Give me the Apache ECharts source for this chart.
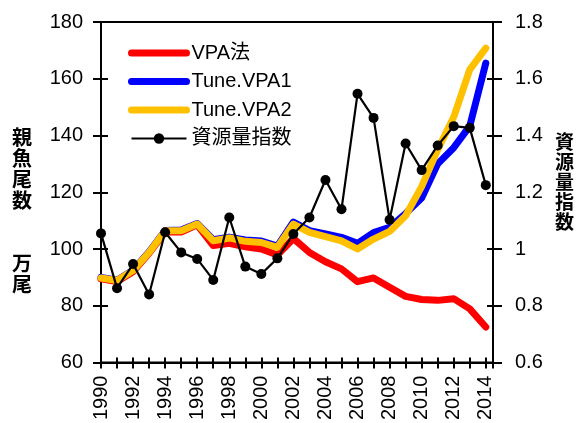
<!DOCTYPE html>
<html>
<head>
<meta charset="utf-8">
<script src="https://cdn.jsdelivr.net/npm/echarts@6/dist/echarts.min.js"></script>
<style>
  html, body { margin: 0; padding: 0; background: #fff; }
  #chart { width: 578px; height: 423px; }
</style>
</head>
<body>
<div id="chart"></div>
<script>
// Years on the horizontal axis
const years = [1990, 1991, 1992, 1993, 1994, 1995, 1996, 1997, 1998, 1999,
               2000, 2001, 2002, 2003, 2004, 2005, 2006, 2007, 2008, 2009,
               2010, 2011, 2012, 2013, 2014];

// Spawning stock numbers (万尾), left axis
const vpa = [89.5, 88.5, 92, 98.5, 106, 106, 108.5, 101.2, 102, 100.8,
             100, 97.9, 103.7, 98.8, 95.5, 93.0, 88.5, 89.8, 86.5, 83.3,
             82.2, 81.9, 82.5, 78.9, 72.5];
const tune1 = [90, 89, 92.5, 99, 106.5, 106.7, 109, 103.3, 104.2, 103.2,
               102.8, 101, 109.5, 106.5, 105.3, 104.1, 102, 105.8, 107.6, 112.5,
               118, 130, 135.7, 143.3, 165.5];
const tune2 = [89.8, 88.9, 92.4, 98.8, 106.4, 106.4, 108.8, 102.9, 103.9, 102.7,
               102.3, 100.6, 108.8, 105.9, 104.4, 102.9, 100, 103.5, 106.2, 111.7,
               122, 135, 146.5, 163.2, 170.8];

// Abundance index, right axis
const abundance = [1.055, 0.862, 0.947, 0.84, 1.059, 0.988, 0.965, 0.891, 1.111, 0.938,
                   0.912, 0.967, 1.053, 1.111, 1.243, 1.14, 1.547, 1.462, 1.103, 1.372,
                   1.278, 1.365, 1.433, 1.427, 1.225];

// Axis ranges
const leftMin = 60, leftMax = 180, leftStep = 20;
const rightMin = 0.6, rightMax = 1.8, rightStep = 0.2;

const names = ['VPA法', 'Tune.VPA1', 'Tune.VPA2', '資源量指数'];

const pairs = arr => years.map((y, i) => [y, arr[i]]);

const FONT = '"Liberation Sans", "Noto Sans CJK JP", sans-serif';
const CJK = '"Noto Sans CJK JP", sans-serif';

const chart = echarts.init(document.getElementById('chart'), null, { renderer: 'canvas' });

const xBase = {
  type: 'value', min: 1990, max: 2014.45, interval: 1,
  splitLine: { show: false }
};
const yLeftBase = { type: 'value', min: leftMin, max: leftMax, interval: leftStep, position: 'left', splitLine: { show: false } };
const yRightBase = { type: 'value', min: rightMin, max: rightMax, interval: rightStep, position: 'right', splitLine: { show: false } };

// Thick legend strokes for the model lines, no marker
const thickItem = name => ({
  name,
  lineStyle: { width: 7, cap: 'round' },
  itemStyle: { opacity: 0 }
});

chart.setOption({
  animation: false,
  backgroundColor: '#fff',
  grid: { left: 101, right: 85, top: 22, bottom: 59, show: true, borderColor: '#000', borderWidth: 2, backgroundColor: 'transparent' },
  legend: {
    data: [thickItem(names[0]), thickItem(names[1]), thickItem(names[2]),
           { name: names[3], lineStyle: { width: 2.2 } }],
    orient: 'vertical',
    left: 128, top: 42, padding: 0,
    itemWidth: 55, itemHeight: 13, itemGap: 6.5,
    textStyle: { fontFamily: FONT, fontSize: 20, lineHeight: 22, color: '#000' }
  },
  xAxis: [
    Object.assign({}, xBase, {
      position: 'bottom',
      axisLine: { lineStyle: { color: '#000', width: 2 } },
      axisTick: { inside: false, length: 6, lineStyle: { color: '#000', width: 2 } },
      axisLabel: {
        rotate: 90, margin: 13, color: '#000', fontFamily: FONT, fontSize: 20,
        formatter: v => (Number.isInteger(v) && v % 2 === 0) ? String(v) : ''
      }
    }),
    Object.assign({}, xBase, {
      position: 'bottom',
      axisLine: { show: false },
      axisTick: { inside: true, length: 5, lineStyle: { color: '#000', width: 2 } },
      axisLabel: { show: false }
    })
  ],
  yAxis: [
    Object.assign({}, yLeftBase, {
      axisLine: { show: true, lineStyle: { color: '#000', width: 2 } },
      axisTick: { inside: false, length: 8, lineStyle: { color: '#000', width: 2 } },
      axisLabel: { margin: 18, color: '#000', fontFamily: FONT, fontSize: 20 }
    }),
    Object.assign({}, yLeftBase, {
      axisLine: { show: false },
      axisTick: { inside: true, length: 7, lineStyle: { color: '#000', width: 2 } },
      axisLabel: { show: false }
    }),
    Object.assign({}, yRightBase, {
      axisLine: { show: true, lineStyle: { color: '#000', width: 2 } },
      axisTick: { inside: false, length: 9, lineStyle: { color: '#000', width: 2 } },
      axisLabel: {
        margin: 22, color: '#000', fontFamily: FONT, fontSize: 20,
        formatter: v => String(+v.toFixed(1))
      }
    }),
    Object.assign({}, yRightBase, {
      axisLine: { show: false },
      axisTick: { inside: true, length: 6, lineStyle: { color: '#000', width: 2 } },
      axisLabel: { show: false }
    })
  ],
  series: [
    {
      name: names[0], type: 'line', xAxisIndex: 0, yAxisIndex: 0,
      data: pairs(vpa), symbol: 'none', z: 2,
      lineStyle: { color: '#ff0000', width: 7, cap: 'round', join: 'round' },
      itemStyle: { color: '#ff0000' }
    },
    {
      name: names[1], type: 'line', xAxisIndex: 0, yAxisIndex: 0,
      data: pairs(tune1), symbol: 'none', z: 3,
      lineStyle: { color: '#0000ff', width: 7, cap: 'round', join: 'round' },
      itemStyle: { color: '#0000ff' }
    },
    {
      name: names[2], type: 'line', xAxisIndex: 0, yAxisIndex: 0,
      data: pairs(tune2), symbol: 'none', z: 4,
      lineStyle: { color: '#ffc000', width: 7, cap: 'round', join: 'round' },
      itemStyle: { color: '#ffc000' }
    },
    {
      name: names[3], type: 'line', xAxisIndex: 0, yAxisIndex: 2,
      data: pairs(abundance), symbol: 'circle', symbolSize: 10, showSymbol: true, z: 5,
      lineStyle: { color: '#000', width: 2.2 },
      itemStyle: { color: '#000' }
    }
  ],
  graphic: [
    {
      type: 'text', left: 12, top: 127,
      style: {
        text: '親\n魚\n尾\n数\n\n\n万\n尾',
        font: 'bold 20px ' + CJK, lineHeight: 21, fill: '#000', align: 'left'
      }
    },
    {
      type: 'text', left: 555, top: 132,
      style: {
        text: '資\n源\n量\n指\n数',
        font: 'bold 19px ' + CJK, lineHeight: 20, fill: '#000', align: 'left'
      }
    }
  ]
});
</script>
</body>
</html>
